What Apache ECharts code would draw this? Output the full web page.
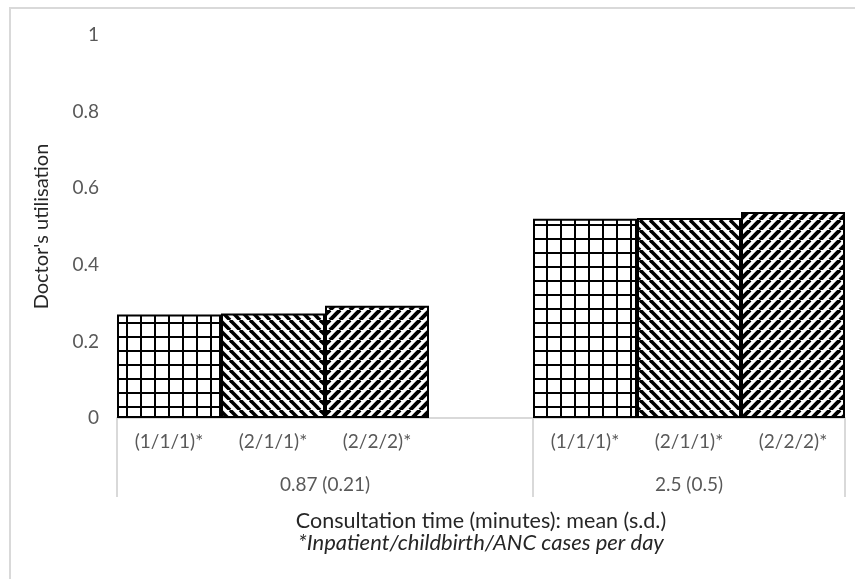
<!DOCTYPE html>
<html>
<head>
<meta charset="utf-8">
<script src="https://cdn.jsdelivr.net/npm/echarts@6/dist/echarts.min.js"></script>
<style>html,body{margin:0;padding:0;background:#fff;}#c{width:855px;height:579px;}</style>
</head>
<body>
<div id="c"></div>
<script>
// ---- data ----
const groupLabels = ['0.87 (0.21)', '2.5 (0.5)'];
const subLabels = ['(1/1/1)*', '(2/1/1)*', '(2/2/2)*'];
const valuesGroup1 = [0.27, 0.273, 0.293];
const valuesGroup2 = [0.52, 0.522, 0.538];
const yTicks = [0, 0.2, 0.4, 0.6, 0.8, 1];
const yTitle = "Doctor's utilisation";
const xTitle = 'Consultation time (minutes): mean (s.d.)';
const xNote = '*Inpatient/childbirth/ANC cases per day';

// ---- patterns ----
function gridPattern() {
  const s = 14, c = document.createElement('canvas');
  c.width = s; c.height = s;
  const g = c.getContext('2d');
  g.fillStyle = '#fff'; g.fillRect(0, 0, s, s);
  g.fillStyle = '#000';
  g.fillRect(0, 0, 2, s);
  g.fillRect(0, 0, s, 2);
  return c;
}
function diagPattern(down, w) {
  const s = 10, c = document.createElement('canvas');
  c.width = s; c.height = s;
  const g = c.getContext('2d');
  g.fillStyle = '#fff'; g.fillRect(0, 0, s, s);
  g.strokeStyle = '#000'; g.lineWidth = w;
  for (let k = -1; k <= 1; k++) {
    g.beginPath();
    if (down) { g.moveTo(k * s, 0); g.lineTo(k * s + s, s); }
    else { g.moveTo(k * s, s); g.lineTo(k * s + s, 0); }
    g.stroke();
  }
  return c;
}
const patterns = [gridPattern(), diagPattern(true, 3.6), diagPattern(false, 4)];

// ---- build ----
const categories = [...subLabels, '', ...subLabels];
const values = [...valuesGroup1, null, ...valuesGroup2];
const seriesData = values.map((v, i) => {
  const p = i < subLabels.length ? i : i - subLabels.length - 1;
  return v == null ? null : {
    value: v,
    itemStyle: { color: { image: patterns[p], repeat: 'repeat' } }
  };
});
const n1 = valuesGroup1.length + 1, n2 = valuesGroup2.length;
const total = n1 + n2;
const groupCenters = [n1 / 2, n1 + n2 / 2];
const groupBounds = [0, n1, total];

const chart = echarts.init(document.getElementById('c'), null, { renderer: 'canvas' });
const font = 'Lato, "Open Sans", sans-serif';
const labelColor = '#595959', titleColor = '#262626';
chart.setOption({
  animation: false,
  backgroundColor: '#fff',
  textStyle: { fontFamily: font },
  grid: { left: 117, right: 10, top: 35, bottom: 161, containLabel: false },
  graphic: [{
    type: 'rect', silent: true, z: -1,
    shape: { x: 10, y: 8, width: 870, height: 600 },
    style: { fill: 'none', stroke: '#d9d9d9', lineWidth: 2 }
  }],
  xAxis: [{
    type: 'category',
    data: categories,
    axisLine: { show: true, lineStyle: { color: '#d9d9d9', width: 2 } },
    axisTick: { show: false },
    axisLabel: { interval: 0, margin: 14, fontSize: 19, color: labelColor, fontFamily: font },
    name: '{a|' + xTitle + '}\n{b|' + xNote + '}',
    nameLocation: 'middle',
    nameGap: 92,
    nameTextStyle: {
      verticalAlign: 'top',
      rich: {
        a: { fontSize: 21.5, color: titleColor, fontFamily: font, lineHeight: 22 },
        b: { fontSize: 22, color: titleColor, fontFamily: font, fontStyle: 'italic', lineHeight: 22 }
      }
    }
  }, {
    type: 'value',
    position: 'bottom',
    min: 0, max: total,
    splitLine: { show: false },
    axisLine: { show: false },
    axisTick: { show: true, customValues: groupBounds, length: 79, lineStyle: { color: '#d9d9d9', width: 2 } },
    axisLabel: {
      customValues: groupCenters, margin: 57, fontSize: 19, color: labelColor, fontFamily: font,
      formatter: v => {
        const i = groupCenters.indexOf(v);
        return i >= 0 ? groupLabels[i] : '';
      }
    }
  }],
  yAxis: {
    type: 'value',
    min: yTicks[0], max: yTicks[yTicks.length - 1], interval: 0.2,
    splitLine: { show: false },
    axisLine: { show: false },
    axisTick: { show: false },
    axisLabel: { margin: 18, fontSize: 19, color: labelColor, fontFamily: font },
    name: yTitle,
    nameLocation: 'middle',
    nameGap: 65,
    nameTextStyle: { fontSize: 20, color: titleColor, fontFamily: font }
  },
  series: [{
    type: 'bar',
    xAxisIndex: 0,
    data: seriesData,
    barCategoryGap: '0%',
    itemStyle: { borderColor: '#000', borderWidth: 2 }
  }]
});
</script>
</body>
</html>
